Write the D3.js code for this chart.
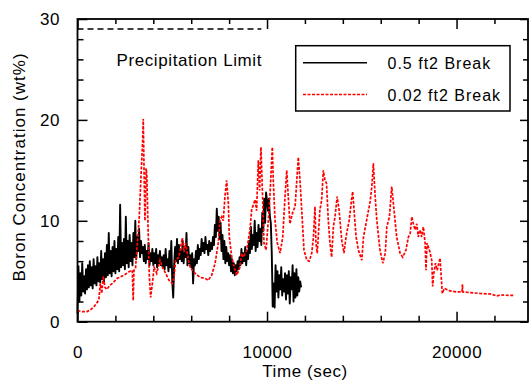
<!DOCTYPE html>
<html>
<head>
<meta charset="utf-8">
<script src="https://cdn.jsdelivr.net/npm/d3@7"></script>
<style>
  body { margin: 0; background: #fff; }
  text { font-family: "Liberation Sans", Arial, sans-serif; fill: #000; }
</style>
</head>
<body>
<div id="chart"></div>
<script>
// 0.02 ft2 break (red dashed), time in sec / boron wt%
const redTime = [0, 250, 500, 700, 870, 1000, 1130, 1200, 1280, 1360, 1450, 1550, 1700, 1840, 2100, 2450, 2720, 2890, 2940, 2980,
  3060, 3160, 3250, 3350, 3440, 3470, 3520, 3560, 3620, 3660, 3700, 3790, 3860, 3970, 4040, 4180, 4350, 4480, 4650, 4830,
  5000, 5090, 5180, 5350, 5450, 5530, 5620, 5700, 5880, 5940, 6200, 6460, 6730, 6900, 7080, 7260, 7430, 7520, 7610, 7690,
  7780, 7870, 7960, 8010, 8140, 8310, 8400, 8570, 8660, 8750, 8930, 9100, 9190, 9370, 9450, 9540, 9610, 9680, 9760, 9840,
  9950, 10070, 10160, 10280, 10330, 10420, 10540, 10690, 10830, 10950, 11040, 11120, 11210, 11350, 11480, 11560, 11650, 11740, 11830, 11950,
  12100, 12230, 12360, 12450, 12530, 12580, 12650, 12790, 12880, 12970, 13060, 13140, 13230, 13320, 13410, 13500, 13590, 13700, 13800, 13940,
  14060, 14170, 14340, 14460, 14520, 14590, 14700, 14820, 15000, 15090, 15260, 15440, 15530, 15610, 15700, 15790, 15960, 16110, 16240, 16320,
  16460, 16580, 16700, 16840, 17020, 17160, 17330, 17460, 17550, 17640, 17720, 17810, 17900, 17980, 18070, 18160, 18250, 18340, 18390, 18440,
  18510, 18600, 18690, 18740, 18800, 18890, 18980, 19130, 19180, 19250, 19350, 19480, 19660, 20010, 20290, 20310, 20330, 20710, 21240, 21770,
  22130, 22300, 22820, 23030];
const redValue = [1.1, 1.0, 1.0, 1.2, 1.5, 1.8, 2.2, 3.8, 2.8, 4.5, 3.4, 3.2, 3.6, 3.8, 4.3, 4.6, 4.95, 5.1, 2.1, 5.1,
  5.3, 7.8, 10.1, 14.4, 18.0, 20.1, 14.0, 10.0, 15.2, 14.5, 11.0, 4.5, 2.4, 4.1, 5.4, 4.8, 6.1, 5.4, 4.8, 4.1,
  3.8, 4.4, 6.1, 6.4, 7.5, 8.3, 6.9, 7.8, 5.8, 5.4, 4.8, 4.4, 4.3, 4.1, 4.6, 5.8, 7.8, 10.1, 10.4, 10.0,
  12.4, 14.0, 11.7, 8.4, 6.4, 5.1, 4.6, 5.4, 6.8, 6.4, 7.1, 9.1, 11.1, 12.1, 11.0, 16.0, 13.0, 17.3, 12.7, 7.8,
  7.1, 10.1, 12.7, 17.3, 14.0, 10.1, 7.8, 6.8, 8.4, 12.4, 15.0, 12.4, 9.7, 10.8, 11.4, 13.7, 16.3, 14.0, 11.1, 7.1,
  6.1, 6.0, 6.8, 8.4, 11.4, 7.8, 6.8, 11.1, 12.0, 15.0, 14.0, 13.7, 10.1, 7.8, 6.4, 9.4, 10.4, 12.4, 11.1, 8.1,
  6.8, 8.4, 10.1, 12.1, 12.9, 11.1, 8.4, 7.1, 6.1, 8.4, 10.1, 11.9, 13.4, 15.7, 12.6, 10.1, 7.1, 5.8, 6.8, 9.4,
  10.4, 13.4, 11.1, 8.4, 6.8, 6.4, 7.1, 8.4, 8.7, 10.4, 9.7, 9.1, 9.7, 8.4, 9.1, 8.4, 9.4, 7.8, 5.1, 7.8,
  7.4, 6.9, 6.1, 3.5, 4.8, 5.8, 5.1, 6.3, 4.8, 2.8, 3.3, 3.2, 3.05, 2.95, 2.95, 3.7, 2.95, 2.88, 2.8, 2.75,
  2.55, 2.65, 2.6, 2.6];

// 0.5 ft2 break (black), sampled every 50 sec from t = 0
const blackStep = 50;
const blackValue = [
  0.8, 5.5, 2.0, 4.8, 2.6, 5.8, 3.0, 4.5, 2.8, 5.2,
  3.2, 5.6, 3.4, 6.0, 3.6, 5.4, 3.3, 6.2, 3.8, 5.5,
  3.6, 6.4, 4.0, 5.8, 3.9, 7.0, 4.2, 6.2, 4.0, 6.8,
  4.4, 7.6, 4.6, 8.8, 4.8, 7.0, 4.5, 7.4, 5.0, 8.0,
  4.8, 7.2, 5.2, 8.4, 5.0, 11.6, 5.4, 7.8, 5.6, 8.2,
  5.2, 10.4, 5.8, 8.0, 5.4, 8.6, 6.0, 7.8, 5.6, 8.8,
  6.4, 10.0, 6.2, 8.4, 7.0, 9.2, 6.4, 8.0, 6.8, 7.4,
  6.0, 7.6, 5.8, 7.0, 6.2, 7.8, 5.6, 6.8, 6.0, 7.2,
  5.6, 6.8, 5.8, 7.2, 5.4, 6.6, 5.8, 7.0, 5.6, 6.4,
  5.4, 6.6, 5.2, 7.2, 5.6, 6.2, 5.0, 7.0, 5.4, 8.0,
  4.0, 2.4, 5.6, 7.4, 6.0, 8.2, 5.8, 7.6, 6.2, 7.0,
  6.0, 8.0, 5.8, 7.2, 6.4, 8.8, 5.6, 7.4, 5.8, 6.6,
  5.4, 6.8, 3.8, 6.2, 5.6, 7.0, 5.8, 7.6, 6.2, 7.2,
  6.6, 8.2, 7.0, 7.8, 6.8, 8.4, 7.2, 7.6, 6.6, 8.0,
  7.0, 7.8, 7.2, 8.4, 7.6, 9.6, 8.4, 11.2, 9.0, 10.4,
  8.2, 9.8, 7.0, 8.6, 6.2, 8.0, 5.8, 7.4, 6.0, 6.8,
  5.6, 6.6, 5.0, 6.2, 4.8, 5.8, 4.6, 5.6, 5.0, 6.0,
  5.2, 6.4, 5.6, 7.2, 5.8, 6.8, 6.0, 7.4, 5.6, 7.0,
  6.2, 8.0, 6.8, 9.4, 7.2, 8.6, 7.6, 10.0, 7.0, 8.8,
  7.4, 9.6, 8.0, 9.2, 7.6, 10.8, 9.0, 12.2, 9.8, 12.8,
  12.0, 11.0, 12.2, 10.4, 9.8, 6.8, 1.5, 3.8, 1.4, 5.6,
  3.0, 5.0, 2.4, 4.6, 3.2, 5.4, 2.6, 4.2, 3.0, 4.8,
  2.2, 4.6, 2.8, 5.0, 1.8, 4.4, 3.2, 5.6, 2.0, 4.8,
  2.4, 5.2, 2.6, 4.4, 3.0, 4.0, 3.4
];

const limitValue = 29;
const limitEnd = 9700;
const limitLabel = "Precipitation Limit";

const xMajorTicks = [0, 10000, 20000];
const xMinorTicks = [2000, 4000, 6000, 8000, 12000, 14000, 16000, 18000, 22000];
const yMajorTicks = [0, 10, 20, 30];
const yMinorTicks = [2, 4, 6, 8, 12, 14, 16, 18, 22, 24, 26, 28];

const seriesNames = ["0.5 ft2 Break", "0.02 ft2 Break"];
const xTitle = "Time (sec)";
const yTitle = "Boron Concentration (wt%)";

const W = 529, H = 383;
const plot = { left: 77.5, right: 528, top: 19, bottom: 321.7 };

const svg = d3.select("#chart").append("svg")
  .attr("width", W)
  .attr("height", H);

const x = d3.scaleLinear().domain([0, 23770]).range([plot.left, plot.right]);
const y = d3.scaleLinear().domain([0, 30]).range([plot.bottom, plot.top]);

const redData = redTime.map((t, i) => ({ t: t, v: redValue[i] }));
const blackData = blackValue.map((v, i) => ({ t: i * blackStep, v: v }));

const line = d3.line().x(d => x(d.t)).y(d => y(d.v));

// data lines
svg.append("path")
  .datum(blackData)
  .attr("fill", "none")
  .attr("stroke", "#000")
  .attr("stroke-width", 1.9)
  .attr("stroke-linejoin", "round")
  .attr("d", line);

svg.append("path")
  .datum(redData)
  .attr("fill", "none")
  .attr("stroke", "#ff0000")
  .attr("stroke-width", 1.7)
  .attr("stroke-dasharray", "3,1.5")
  .attr("d", line);

// precipitation limit
svg.append("path")
  .datum([{ t: 0, v: limitValue }, { t: limitEnd, v: limitValue }])
  .attr("fill", "none")
  .attr("stroke", "#000")
  .attr("stroke-width", 1.5)
  .attr("stroke-dasharray", "6,4")
  .attr("d", line);

svg.append("text")
  .attr("x", 116.5)
  .attr("y", 65.7)
  .style("font-size", "17px")
  .style("letter-spacing", "0.6px")
  .text(limitLabel);

// axes, ticks pointing inward
const noDomain = g => g.select(".domain").remove();

svg.append("g")
  .attr("transform", `translate(0,${plot.bottom})`)
  .call(d3.axisBottom(x).tickValues(xMajorTicks).tickSize(-10).tickPadding(24.5).tickFormat(d3.format("d")))
  .call(noDomain)
  .call(g => g.selectAll("text").style("font-size", "17px").style("letter-spacing", "0.6px")
    .attr("font-family", null).attr("fill", "#000"));
svg.append("g")
  .attr("transform", `translate(0,${plot.bottom})`)
  .call(d3.axisBottom(x).tickValues(xMinorTicks).tickSize(-6).tickFormat(""))
  .call(noDomain);

svg.append("g")
  .attr("transform", `translate(0,${plot.top})`)
  .call(d3.axisTop(x).tickValues(xMajorTicks).tickSize(-10).tickFormat(""))
  .call(noDomain);
svg.append("g")
  .attr("transform", `translate(0,${plot.top})`)
  .call(d3.axisTop(x).tickValues(xMinorTicks).tickSize(-5).tickFormat(""))
  .call(noDomain);

svg.append("g")
  .attr("transform", `translate(${plot.left},0)`)
  .call(d3.axisLeft(y).tickValues(yMajorTicks).tickSize(-10).tickPadding(17.5))
  .call(noDomain)
  .call(g => g.selectAll("text").style("font-size", "17px").style("letter-spacing", "0.6px")
    .attr("font-family", null).attr("fill", "#000"));
svg.append("g")
  .attr("transform", `translate(${plot.left},0)`)
  .call(d3.axisLeft(y).tickValues(yMinorTicks).tickSize(-6).tickFormat(""))
  .call(noDomain);

svg.append("g")
  .attr("transform", `translate(${plot.right},0)`)
  .call(d3.axisRight(y).tickValues(yMajorTicks).tickSize(-8).tickFormat(""))
  .call(noDomain);
svg.append("g")
  .attr("transform", `translate(${plot.right},0)`)
  .call(d3.axisRight(y).tickValues(yMinorTicks).tickSize(-5).tickFormat(""))
  .call(noDomain);

svg.selectAll(".tick line").attr("stroke", "#000").attr("stroke-width", 1.5);

// frame
svg.append("rect")
  .attr("x", plot.left)
  .attr("y", plot.top)
  .attr("width", plot.right - plot.left)
  .attr("height", plot.bottom - plot.top)
  .attr("fill", "none")
  .attr("stroke", "#000")
  .attr("stroke-width", 1.8);

// axis titles
svg.append("text")
  .attr("x", 305)
  .attr("y", 376.7)
  .attr("text-anchor", "middle")
  .style("font-size", "17px")
  .style("letter-spacing", "0.6px")
  .text(xTitle);

svg.append("text")
  .attr("transform", "translate(24.5,167) rotate(-90)")
  .attr("text-anchor", "middle")
  .style("font-size", "17px")
  .style("letter-spacing", "1px")
  .text(yTitle);

// legend
const legend = svg.append("g");
legend.append("rect")
  .attr("x", 295.7)
  .attr("y", 45.7)
  .attr("width", 214.3)
  .attr("height", 65.3)
  .attr("fill", "#fff")
  .attr("stroke", "#000")
  .attr("stroke-width", 1.5);

const legendStyles = [
  { stroke: "#000", dash: null, width: 1.6 },
  { stroke: "#ff0000", dash: "3,1.5", width: 1.5 }
];
const legendRows = [62.7, 94.5];

seriesNames.forEach((name, i) => {
  legend.append("line")
    .attr("x1", 303).attr("x2", 367)
    .attr("y1", legendRows[i]).attr("y2", legendRows[i])
    .attr("stroke", legendStyles[i].stroke)
    .attr("stroke-width", legendStyles[i].width)
    .attr("stroke-dasharray", legendStyles[i].dash);
  legend.append("text")
    .attr("x", 387.5)
    .attr("y", legendRows[i] + 6)
    .style("font-size", "16px")
    .style("letter-spacing", "1px")
    .text(name);
});
</script>
</body>
</html>
